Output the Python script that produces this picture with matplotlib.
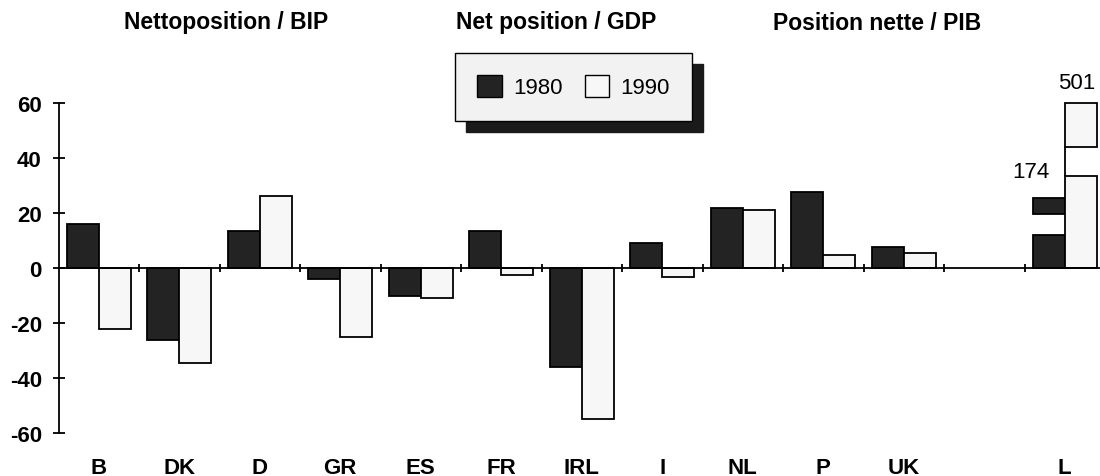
import numpy as np
import matplotlib.pyplot as plt
from matplotlib.patches import Patch

plt.rcParams['font.family'] = ['Liberation Sans', 'DejaVu Sans']
plt.rcParams['axes.unicode_minus'] = False

# data (% of GDP)
countries = ['B', 'DK', 'D', 'GR', 'ES', 'FR', 'IRL', 'I', 'NL', 'P', 'UK', '', 'L']
v1980 = [16, -26, 13.3, -4, -10.3, 13.3, -36, 9.2, 21.7, 27.7, 7.5]
v1990 = [-22, -34.5, 26.2, -25, -11, -2.4, -55, -3.3, 21.2, 4.8, 5.5]

# Luxembourg is off the scale: true values and the broken-bar pieces shown
l_values = [174, 501]
l_1980_pieces = [(0, 12), (19.6, 25.4)]
l_1990_pieces = [(0, 33.3), (44, 60)]

titles = ['Nettoposition / BIP', 'Net position / GDP', 'Position nette / PIB']
title_x = [226, 556, 877]

W, H = 1100, 477
fig = plt.figure(figsize=(W / 100, H / 100), dpi=100)
ax = fig.add_axes([58.5 / W, 43 / H, 1046.5 / W, 330 / H])

x = np.arange(len(v1980))
bw = 0.4
dark = '#232323'
light = '#f7f7f7'
ax.bar(x - bw / 2, v1980, bw, color=dark, edgecolor='black', linewidth=1.3)
ax.bar(x + bw / 2, v1990, bw, color=light, edgecolor='black', linewidth=1.3)

# broken bars for L
lx = countries.index('L')
for lo, hi in l_1980_pieces:
    ax.bar(lx - bw / 2, hi - lo, bw, bottom=lo, color=dark, edgecolor='black',
           linewidth=1.3, clip_on=False)
for lo, hi in l_1990_pieces:
    ax.bar(lx + bw / 2, hi - lo, bw, bottom=lo, color=light, edgecolor='black',
           linewidth=1.3, clip_on=False)
ax.vlines(lx, l_1990_pieces[0][1], l_1990_pieces[1][0], color='black', lw=1.3)
ax.text(lx - 0.42, 35, str(l_values[0]), ha='center', va='center', fontsize=16)
ax.text(lx + 0.15, 67.6, str(l_values[1]), ha='center', va='center', fontsize=16,
        clip_on=False)

# zero line and category separators
ax.axhline(0, color='black', lw=1.3, zorder=3)
sep = np.arange(len(countries) - 1) + 0.5
ax.vlines(sep, -1.6, 1.6, color='black', lw=1.3, zorder=3)

ax.set_xlim(-0.5, len(countries) - 0.5)
ax.set_ylim(-60, 60)
ax.set_yticks(np.arange(-60, 61, 20))
ax.set_xticks(np.arange(len(countries)))
ax.set_xticklabels(countries, fontsize=16, fontweight='bold')
ax.tick_params(axis='x', length=0, pad=17)
ax.tick_params(axis='y', direction='inout', length=8, width=1.3, pad=8,
               labelsize=16)
for lab in ax.get_yticklabels():
    lab.set_fontweight('bold')
for s in ['top', 'right', 'bottom']:
    ax.spines[s].set_visible(False)
ax.spines['left'].set_linewidth(1.3)
ax.patch.set_alpha(0)

for t, tx in zip(titles, title_x):
    fig.text(tx / W, 1 - 23 / H, t, ha='center', va='center', fontsize=16.5,
             fontweight='bold')

handles = [Patch(facecolor=dark, edgecolor='black', label='1980'),
           Patch(facecolor=light, edgecolor='black', label='1990')]
fig.legend(handles=handles, loc='upper left', ncol=2,
           bbox_to_anchor=(455 / W, 1 - 54 / H), bbox_transform=fig.transFigure,
           borderaxespad=0, fancybox=False, edgecolor='black', framealpha=1,
           facecolor='#f2f2f2', fontsize=16, handlelength=1.1, handleheight=1.1,
           handletextpad=0.5, columnspacing=1.0, borderpad=1.0,
           shadow={'ox': 7.9, 'oy': -7.9, 'color': '#1a1a1a', 'alpha': 1})

fig.savefig('out.png', dpi=100)
